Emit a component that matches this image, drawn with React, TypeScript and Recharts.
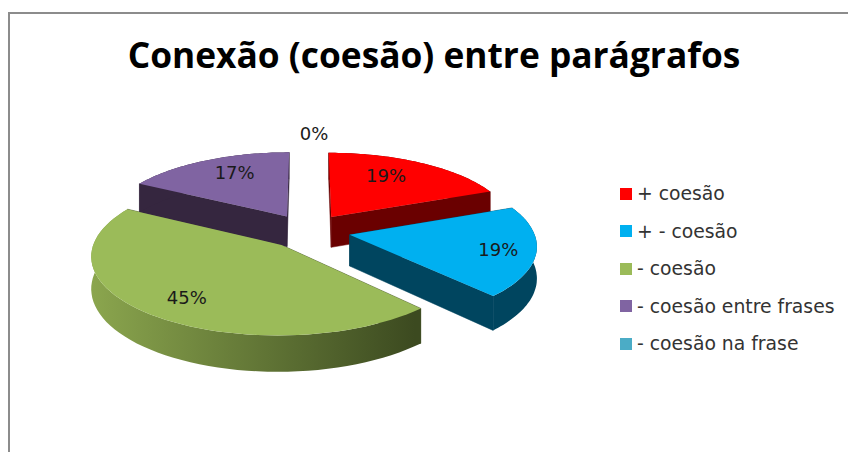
import { Legend, Pie, PieChart } from 'recharts';

const categories = ['+ coesão', '+ - coesão', '- coesão', '- coesão entre frases', '- coesão na frase'];
const values = [19, 19, 45, 17, 0];
const topColors = ['#ff0000', '#00b0f0', '#9bbb59', '#8064a2', '#4bacc6'];
const sideColors = ['#6a0000', '#00455f', '#3c4a20', '#35263f', '#1f5a6a'];
const bandColors = ['#6a0000', '#00455f', 'url(#greenBand)', '#35263f', '#1f5a6a'];

const rows = categories.map((name, i) => ({
  name,
  value: values[i],
  fill: topColors[i],
  side: sideColors[i],
  band: bandColors[i],
}));

// fake 3D: the flat pie is tilted and slightly put in perspective
const SQUASH = 0.41;
const PERSPECTIVE = 0.124;
const EXPLODE = 0.23;
const DEPTH = 31;
const LABEL_RADIUS = [0.6, 0.8, 0.75, 0.65, 1.3];
const LABEL_SHIFT = [[-1, -8], [0, 1], [1, 2], [2, -6], [6, 0]];
const FONT = '"DejaVu Sans", sans-serif';
const RAD = Math.PI / 180;

type Pt = [number, number];

const project = (p: any, radius: number, angle: number): Pt => {
  const X = EXPLODE * Math.cos(p.midAngle * RAD) + radius * Math.cos(angle * RAD);
  const T = -EXPLODE * Math.sin(p.midAngle * RAD) - radius * Math.sin(angle * RAD);
  const d = 1 - PERSPECTIVE * T;
  return [p.cx + (p.outerRadius * X) / d, p.cy + (p.outerRadius * SQUASH * T) / d];
};

const arc = (p: any): Pt[] => {
  const pts: Pt[] = [];
  for (let i = 0; i <= 60; i++) {
    pts.push(project(p, 1, p.startAngle + ((p.endAngle - p.startAngle) * i) / 60));
  }
  return pts;
};

const lowered = (pts: Pt[], cy: number, r: number): Pt[] =>
  pts.map(([x, y]) => {
    // nearer parts of the wall look a bit taller
    const T = (y - cy) / (r * SQUASH);
    return [x, y + DEPTH * (1 + PERSPECTIVE * T)];
  });

const toPath = (pts: Pt[]) => 'M' + pts.map(([x, y]) => `${x.toFixed(1)},${y.toFixed(1)}`).join('L') + 'Z';

const SideShape = (p: any) => {
  if (p.startAngle === p.endAngle) return <g />;
  const rim = arc(p);
  const apex = project(p, 0, 0);
  const low = (pts: Pt[]) => lowered(pts, p.cy, p.outerRadius);
  const [apexLow] = low([apex]);
  const first = rim[0];
  const last = rim[rim.length - 1];
  return (
    <g>
      <path d={toPath([apex, first, ...low([first]), apexLow])} fill={p.side} stroke={p.side} strokeWidth={0.5} />
      <path d={toPath([apex, last, ...low([last]), apexLow])} fill={p.side} stroke={p.side} strokeWidth={0.5} />
      <path d={toPath([...rim, ...low(rim).reverse()])} fill={p.band} />
    </g>
  );
};

const TopShape = (p: any) => {
  if (p.startAngle === p.endAngle) return <g />;
  return <path d={toPath([project(p, 0, 0), ...arc(p)])} fill={p.fill} />;
};

const PercentLabel = (p: any) => {
  const [x, y] = project(p, LABEL_RADIUS[p.index], p.midAngle);
  const [dx, dy] = LABEL_SHIFT[p.index];
  return (
    <text x={x + dx} y={y + dy} textAnchor="middle" dominantBaseline="central" fontFamily={FONT} fontSize={18} fill="#1a1a1a">
      {Math.round(p.percent * 100)}%
    </text>
  );
};

const LegendList = ({ payload }: any) => (
  <div style={{ fontFamily: FONT, fontSize: 18.8, color: '#333' }}>
    {payload
      .filter((entry: any) => entry.type !== 'none')
      .map((entry: any) => (
        <div key={entry.value} style={{ display: 'flex', alignItems: 'center', height: 37.5, whiteSpace: 'nowrap' }}>
          <span style={{ width: 12, height: 12, background: entry.color, marginRight: 5 }} />
          {entry.value}
        </div>
      ))}
  </div>
);

export default function App() {
  return (
    <div style={{ position: 'absolute', left: 0, top: 0, width: 848, height: 452, overflow: 'hidden', background: '#fff' }}>
      <div style={{ position: 'absolute', left: 8, top: 12, width: 840, height: 440, borderLeft: '2px solid #8c8c8c', borderTop: '2px solid #8c8c8c' }} />
      <PieChart width={848} height={452} style={{ position: 'absolute', left: 0, top: 0 }}>
        <defs>
          <linearGradient id="greenBand" gradientUnits="userSpaceOnUse" x1={90} y1={0} x2={415} y2={0}>
            <stop offset="0%" stopColor="#8ba64e" />
            <stop offset="100%" stopColor="#3c4a20" />
          </linearGradient>
        </defs>
        <text x={434} y={54} textAnchor="middle" dominantBaseline="central" fontFamily='"Open Sans", sans-serif' fontWeight={700} fontSize={35.3} fill="#000">
          Conexão (coesão) entre parágrafos
        </text>
        <Pie
          data={rows}
          dataKey="value"
          nameKey="name"
          cx={303}
          cy={226}
          outerRadius={184}
          startAngle={90}
          endAngle={-270}
          legendType="none"
          shape={SideShape}
          inactiveShape={SideShape}
          label={false}
          isAnimationActive={false}
        />
        <Pie
          data={rows}
          dataKey="value"
          nameKey="name"
          cx={303}
          cy={226}
          outerRadius={184}
          startAngle={90}
          endAngle={-270}
          shape={TopShape}
          inactiveShape={TopShape}
          label={PercentLabel}
          labelLine={false}
          isAnimationActive={false}
        />
        <Legend
          layout="vertical"
          align="right"
          verticalAlign="top"
          content={LegendList}
          itemSorter={null}
          wrapperStyle={{ left: 620, top: 175, width: 228 }}
        />
      </PieChart>
    </div>
  );
}
